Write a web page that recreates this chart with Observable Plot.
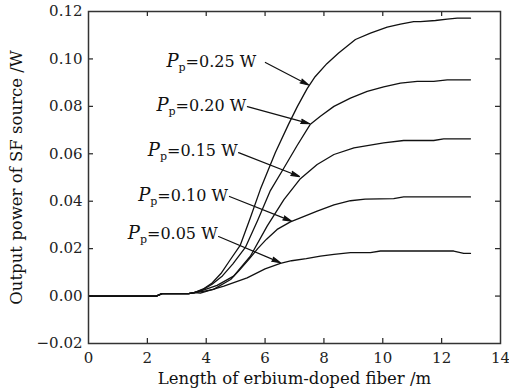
<!DOCTYPE html>
<html>
<head>
<meta charset="utf-8">
<script src="https://cdn.jsdelivr.net/npm/d3@7"></script>
<script src="https://cdn.jsdelivr.net/npm/@observablehq/plot@0.6"></script>
<style>
  html, body { margin: 0; padding: 0; background: #fff; }
  #chart { width: 509px; height: 391px; }
  #chart svg, #chart svg text { font-family: "DejaVu Serif", "Liberation Serif", serif !important; }
</style>
</head>
<body>
<div id="chart"></div>
<script>
// ---- data ----
const common = [[0, 0], [2.3, 0], [2.5, 0.001], [3.4, 0.001], [3.6, 0.0015]];

const p25 = [[3.9, 0.003], [4.2, 0.0055], [4.5, 0.0095], [4.8, 0.015], [5.16, 0.0215], [5.5, 0.033], [5.84, 0.045], [6.35, 0.0605], [6.8, 0.0725], [7.1, 0.080], [7.43, 0.0875], [7.7, 0.0925], [8.1, 0.098], [8.5, 0.1025], [9.07, 0.1082], [9.58, 0.1109], [10.15, 0.1134], [10.6, 0.1147], [11.05, 0.1157], [11.28, 0.1157], [11.79, 0.1162], [12.19, 0.1168], [12.53, 0.1172], [12.98, 0.1172]];
const p20 = [[3.9, 0.0028], [4.2, 0.005], [4.55, 0.0085], [4.9, 0.0135], [5.33, 0.0205], [5.75, 0.032], [6.18, 0.0445], [6.64, 0.054], [7.09, 0.0635], [7.54, 0.0725], [7.88, 0.0758], [8.34, 0.08], [8.9, 0.0835], [9.47, 0.0863], [10.03, 0.0882], [10.6, 0.0898], [11.17, 0.0905], [11.73, 0.0905], [12.19, 0.0912], [12.98, 0.0912]];
const p15 = [[3.9, 0.0025], [4.37, 0.0045], [4.93, 0.0084], [5.5, 0.0168], [6.07, 0.0295], [6.64, 0.0407], [7.2, 0.0495], [7.77, 0.0555], [8.34, 0.0597], [9.02, 0.0625], [10.03, 0.0646], [10.71, 0.0656], [11.73, 0.0656], [12.07, 0.0663], [12.98, 0.0663]];
const p10 = [[3.9, 0.002], [4.25, 0.0028], [4.83, 0.007], [5.1, 0.0105], [5.45, 0.0155], [5.75, 0.020], [6.05, 0.024], [6.41, 0.0281], [6.86, 0.0313], [7.2, 0.033], [7.77, 0.0358], [8.34, 0.0385], [8.9, 0.0402], [9.4, 0.0409], [10.37, 0.0411], [10.71, 0.0418], [12.98, 0.0418]];
const p05 = [[3.8, 0.0012], [4.6, 0.0042], [5.39, 0.0077], [6.0, 0.0115], [6.52, 0.0138], [6.9, 0.0149], [7.4, 0.0158], [7.88, 0.0168], [8.34, 0.0176], [8.9, 0.0183], [9.58, 0.0183], [9.92, 0.019], [12.41, 0.019], [12.75, 0.018], [12.98, 0.018]];

const seriesNames = ["0.25 W", "0.20 W", "0.15 W", "0.10 W", "0.05 W"];
const seriesValues = [p25, p20, p15, p10, p05];

// annotation: label anchor (right end, middle) and arrow start/end, in data units
const labelX = [5.73, 5.39, 5.10, 4.77, 4.42];
const labelY = [0.0986, 0.0802, 0.0613, 0.0423, 0.0262];
const arrowX1 = [6.01, 5.40, 5.10, 4.79, 4.42];
const arrowY1 = [0.0985, 0.0799, 0.0605, 0.0420, 0.0251];
const arrowX2 = [7.48, 7.51, 7.17, 6.90, 6.52];
const arrowY2 = [0.0890, 0.0727, 0.0504, 0.0316, 0.0141];

const xTicks = [0, 2, 4, 6, 8, 10, 12, 14];
const yTicks = [-0.02, 0, 0.02, 0.04, 0.06, 0.08, 0.10, 0.12];
const xInnerTicks = [2, 4, 6, 8, 10, 12];
const yInnerTicks = [0, 0.02, 0.04, 0.06, 0.08, 0.10];
const xLabel = "Length of erbium-doped fiber /m";
const yLabel = "Output power of SF source /W";

// ---- build ----
const lineData = [];
seriesNames.forEach((name, i) => {
  for (const [x, y] of common.concat(seriesValues[i])) lineData.push({series: name, x, y});
});
const annot = seriesNames.map((name, i) => ({
  name, lx: labelX[i], ly: labelY[i],
  x1: arrowX1[i], y1: arrowY1[i], x2: arrowX2[i], y2: arrowY2[i]
}));

const W = 509, H = 391;
const mL = 88, mR = 9, mT = 11, mB = 48;
const plotH = H - mT - mB, plotW = W - mL - mR;
const tickLen = 5;
const ink = "#222";
const FF = "'DejaVu Serif', 'Liberation Serif', serif";

const chart = Plot.plot({
  width: W, height: H,
  marginLeft: mL, marginRight: mR, marginTop: mT, marginBottom: mB,
  style: {fontFamily: FF, fontSize: "15px", color: ink, background: "#fff"},
  x: {domain: [0, 14]},
  y: {domain: [-0.02, 0.12]},
  marks: [
    Plot.axisX({ticks: xTicks, tickSize: 0, tickPadding: 9, tickFormat: d3.format("d"), label: null, fontFamily: FF}),
    Plot.axisY({ticks: yTicks, tickSize: 0, tickPadding: 6, tickFormat: d3.format(".2f"), label: null, fontFamily: FF}),
    Plot.tickX(xInnerTicks, {x: d => d, insetTop: plotH - tickLen, stroke: ink, strokeWidth: 1.2}),
    Plot.tickX(xInnerTicks, {x: d => d, insetBottom: plotH - tickLen, stroke: ink, strokeWidth: 1.2}),
    Plot.tickY(yInnerTicks, {y: d => d, insetRight: plotW - tickLen, stroke: ink, strokeWidth: 1.2}),
    Plot.tickY(yInnerTicks, {y: d => d, insetLeft: plotW - tickLen, stroke: ink, strokeWidth: 1.2}),
    Plot.line(lineData, {x: "x", y: "y", z: "series", stroke: "#111", strokeWidth: 1.3}),
    Plot.arrow(annot, {x1: "x1", y1: "y1", x2: "x2", y2: "y2", stroke: "#111", fill: "#111", strokeWidth: 1.2, headLength: 11, headAngle: 28}),
    Plot.text(annot, {x: "lx", y: "ly", text: "name", textAnchor: "end", dx: -1, fontSize: 16, fontFamily: FF, fill: "#111", className: "pplabel"}),
    Plot.text([xLabel], {frameAnchor: "bottom", dy: 40, fontSize: 16.5, fontFamily: FF, fill: "#111"}),
    Plot.text([yLabel], {frameAnchor: "left", textAnchor: "middle", rotate: -90, dx: -72, fontSize: 16.5, fontFamily: FF, fill: "#111"}),
    Plot.frame({stroke: "#333", strokeWidth: 1.5})
  ]
});

// rich label: italic P with roman subscript p
d3.select(chart).selectAll("g.pplabel text").each(function() {
  const t = this.textContent;
  const sel = d3.select(this);
  sel.text(null);
  sel.append("tspan").attr("font-style", "italic").attr("font-size", 18).text("P");
  sel.append("tspan").attr("font-size", 11).attr("dy", "0.35em").text("p");
  sel.append("tspan").attr("dy", "-0.24em").text("=" + t);
});

document.getElementById("chart").appendChild(chart);
</script>
</body>
</html>
